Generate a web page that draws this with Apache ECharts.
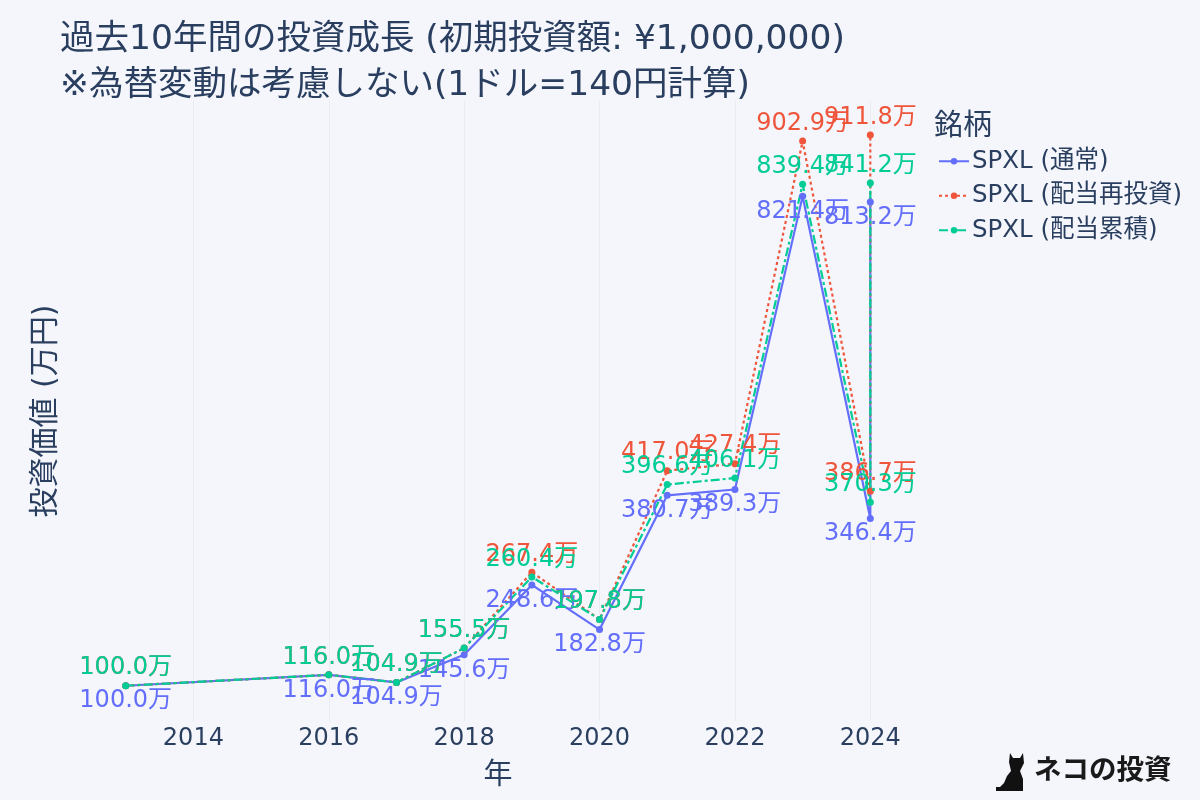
<!DOCTYPE html>
<html><head><meta charset="utf-8">
<style>html,body{margin:0;padding:0;background:#f4f6fb}#c{width:1200px;height:800px}</style>
<script src="https://cdn.jsdelivr.net/npm/echarts@6/dist/echarts.min.js"></script>
</head><body><div id="c"></div>
<script>
const years = [2013,2016,2017,2018,2019,2020,2021,2022,2023,2024,2024];
const normal = [100.0,116.0,104.9,145.6,248.6,182.8,380.7,389.3,821.4,346.4,813.2];
const reinvest = [100.0,116.0,104.9,155.5,267.4,197.8,417.0,427.4,902.9,386.7,911.8];
const accumulate = [100.0,116.0,104.9,155.5,260.4,197.8,396.6,406.1,839.4,370.3,841.2];
const seriesNames = ['SPXL (通常)','SPXL (配当再投資)','SPXL (配当累積)'];
const titleLines = '過去10年間の投資成長 (初期投資額: ¥1,000,000)\n※為替変動は考慮しない(1ドル=140円計算)';
const FONT = '"DejaVu Sans","Noto Sans CJK JP",sans-serif';
const INK = '#2a3f5f';
function mk(name, vals, color, dash, pos, dist){
  return {name, type:'line', data: years.map((y,i)=>[y,vals[i]]),
    showSymbol:true, symbol:'circle', symbolSize:7, clip:false,
    lineStyle:{color, width:2.2, type:dash}, itemStyle:{color},
    label:{show:true, position:pos, distance:dist, color, fontFamily:FONT, fontSize:24,
      formatter:p=>p.value[1].toFixed(1)+'万'},
    labelLayout:{hideOverlap:false}, emphasis:{disabled:true}, animation:false};
}
const chart = echarts.init(document.getElementById('c'),null,{renderer:'canvas'});
chart.setOption({
  backgroundColor:'#f4f6fb', animation:false,
  title:[{text:titleLines,left:60,top:17,padding:0,textStyle:{fontFamily:FONT,fontSize:34.5,fontWeight:'normal',color:INK,lineHeight:46}},
         {text:'銘柄',left:934,top:113,padding:0,textStyle:{fontFamily:FONT,fontSize:29,fontWeight:'normal',color:INK}}],
  legend:{orient:'vertical',left:938,top:149,padding:0,itemWidth:30,itemHeight:8,itemGap:10,
    data:seriesNames,selectedMode:false,textStyle:{fontFamily:FONT,fontSize:24.5,color:INK,padding:[0,0,0,-2]}},
  grid:{left:58,right:262,top:101,bottom:79},
  xAxis:{type:'value',min:2012,max:2025,interval:2,name:'年',nameLocation:'middle',nameGap:41,
    nameTextStyle:{fontFamily:FONT,fontSize:29,color:INK},
    axisLine:{show:false},axisTick:{show:false},
    axisLabel:{fontFamily:FONT,fontSize:24,color:INK,margin:6,showMinLabel:false,showMaxLabel:false,formatter:v=>String(v)},
    splitLine:{show:true,showMinLine:false,showMaxLine:false,lineStyle:{color:'#e9edf3',width:1}}},
  yAxis:{type:'value',min:48,max:962,name:'投資価値 (万円)',nameLocation:'middle',nameRotate:90,nameGap:-3,
    nameTextStyle:{fontFamily:FONT,fontSize:30,color:INK},
    axisLine:{show:false},axisTick:{show:false},axisLabel:{show:false},splitLine:{show:false}},
  series:[mk(seriesNames[0],normal,'#636efa','solid','bottom',0),
          mk(seriesNames[1],reinvest,'#ef553b',[3,3],'top',2),
          mk(seriesNames[2],accumulate,'#00cc96',[9,3,3,3],'top',2)],
  graphic:[
    {type:'text',x:1034,y:755,style:{text:'ネコの投資',font:'bold 27.5px "Noto Sans CJK JP"',fill:'#1a1a1a'}},
    {type:'polygon',x:996,y:753,shape:{points:[[14,0],[17,5],[24,5],[27,0],[28,10],[24,18],[27,26],[27,38],[10,38],[0,38],[0,34],[4,34],[8,30],[11,23],[15,18],[13,9]]},style:{fill:'#111'}}
  ]
});
</script></body></html>
